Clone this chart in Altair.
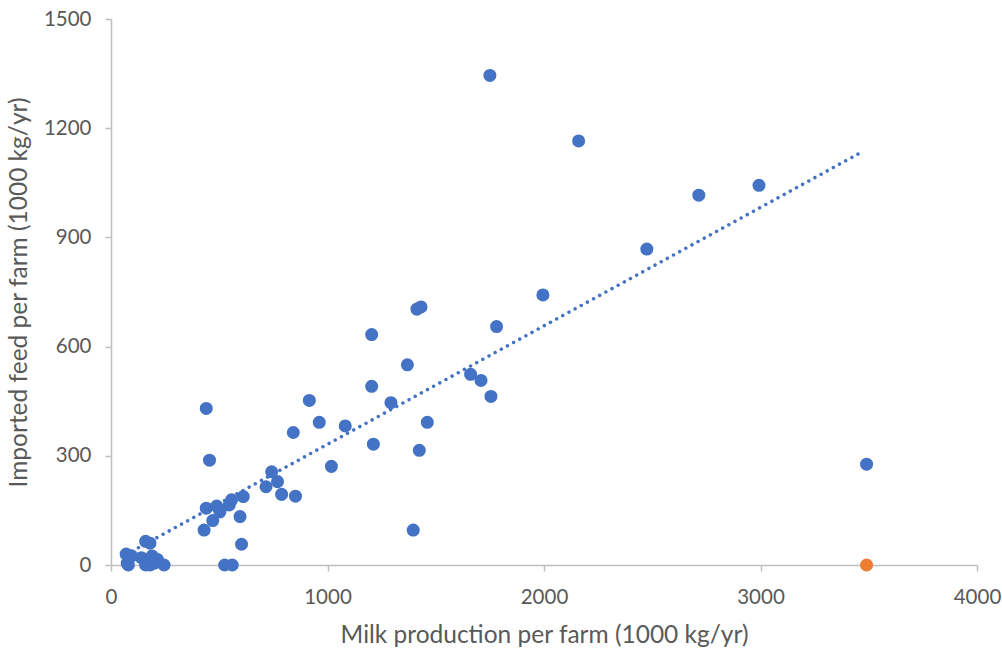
import altair as alt
import pandas as pd

# Blue series: farms (milk production vs imported feed, 1000 kg/yr)
milk = [70, 95, 80, 75, 140, 160, 180, 190, 215, 160, 180, 200, 245, 525, 560,
        430, 440, 455, 440, 488, 470, 503, 546, 557, 611, 596, 603, 716, 742, 769,
        788, 852, 842, 916, 962, 1018, 1082, 1204, 1204, 1212, 1293, 1369, 1396,
        1413, 1432, 1424, 1461, 1661, 1709, 1755, 1750, 1781, 1995, 2160, 2475,
        2715, 2993, 3490]
feed = [30, 25, 0, 5, 20, 65, 60, 25, 15, 0, 0, 5, 0, 0, 0,
        96, 430, 288, 156, 162, 122, 146, 165, 179, 188, 133, 57, 215, 256, 229,
        194, 189, 364, 452, 392, 271, 382, 633, 491, 332, 446, 550, 96,
        703, 709, 315, 392, 524, 507, 463, 1345, 655, 742, 1165, 868,
        1016, 1043, 277]

# Orange series: single highlighted farm
milk_orange = [3490]
feed_orange = [0]

# Trendline end points
trend_x = [70, 3475]
trend_y = [29, 1137]

df = pd.DataFrame({
    "milk": milk + milk_orange,
    "feed": feed + feed_orange,
    "series": ["A"] * len(milk) + ["B"] * len(milk_orange),
})
trend = pd.DataFrame({"milk": trend_x, "feed": trend_y})

xscale = alt.Scale(domain=[0, 4000], nice=False, zero=True)
yscale = alt.Scale(domain=[0, 1500], nice=False, zero=True)

xaxis = alt.Axis(title="Milk production per farm (1000 kg/yr)",
                 values=[0, 1000, 2000, 3000, 4000], format="d",
                 labelFlush=False, labelPadding=16, titlePadding=16)
yaxis = alt.Axis(title="Imported feed per farm (1000 kg/yr)",
                 values=[0, 300, 600, 900, 1200, 1500], format="d",
                 labelFlush=False, labelPadding=14, titlePadding=12)

points = alt.Chart(df).mark_circle(size=170, opacity=1).encode(
    x=alt.X("milk:Q", scale=xscale, axis=xaxis),
    y=alt.Y("feed:Q", scale=yscale, axis=yaxis),
    color=alt.Color("series:N", scale=alt.Scale(domain=["A", "B"], range=["#4472C4", "#ED7D31"]), legend=None),
)

line = alt.Chart(trend).mark_line(
    color="#4472C4", strokeWidth=3.5, strokeDash=[0.01, 7], strokeCap="round"
).encode(
    x=alt.X("milk:Q", scale=xscale),
    y=alt.Y("feed:Q", scale=yscale),
)

chart = alt.layer(points, line).properties(
    width=866, height=546,
    autosize=alt.AutoSizeParams(type="none"),
    padding={"left": 111, "top": 19, "right": 25, "bottom": 87},
).configure_view(stroke=None).configure_axis(
    grid=False,
    domainColor="#BFBFBF", domainWidth=1.5,
    tickColor="#BFBFBF", tickWidth=1.5, tickSize=6,
    labelFont="Lato", labelFontSize=20.5, labelColor="#595959",
    titleFont="Lato", titleFontSize=24.5, titleFontWeight="normal", titleColor="#595959",
)

chart.save("out.html", embed_options={"renderer": "svg", "actions": False})
